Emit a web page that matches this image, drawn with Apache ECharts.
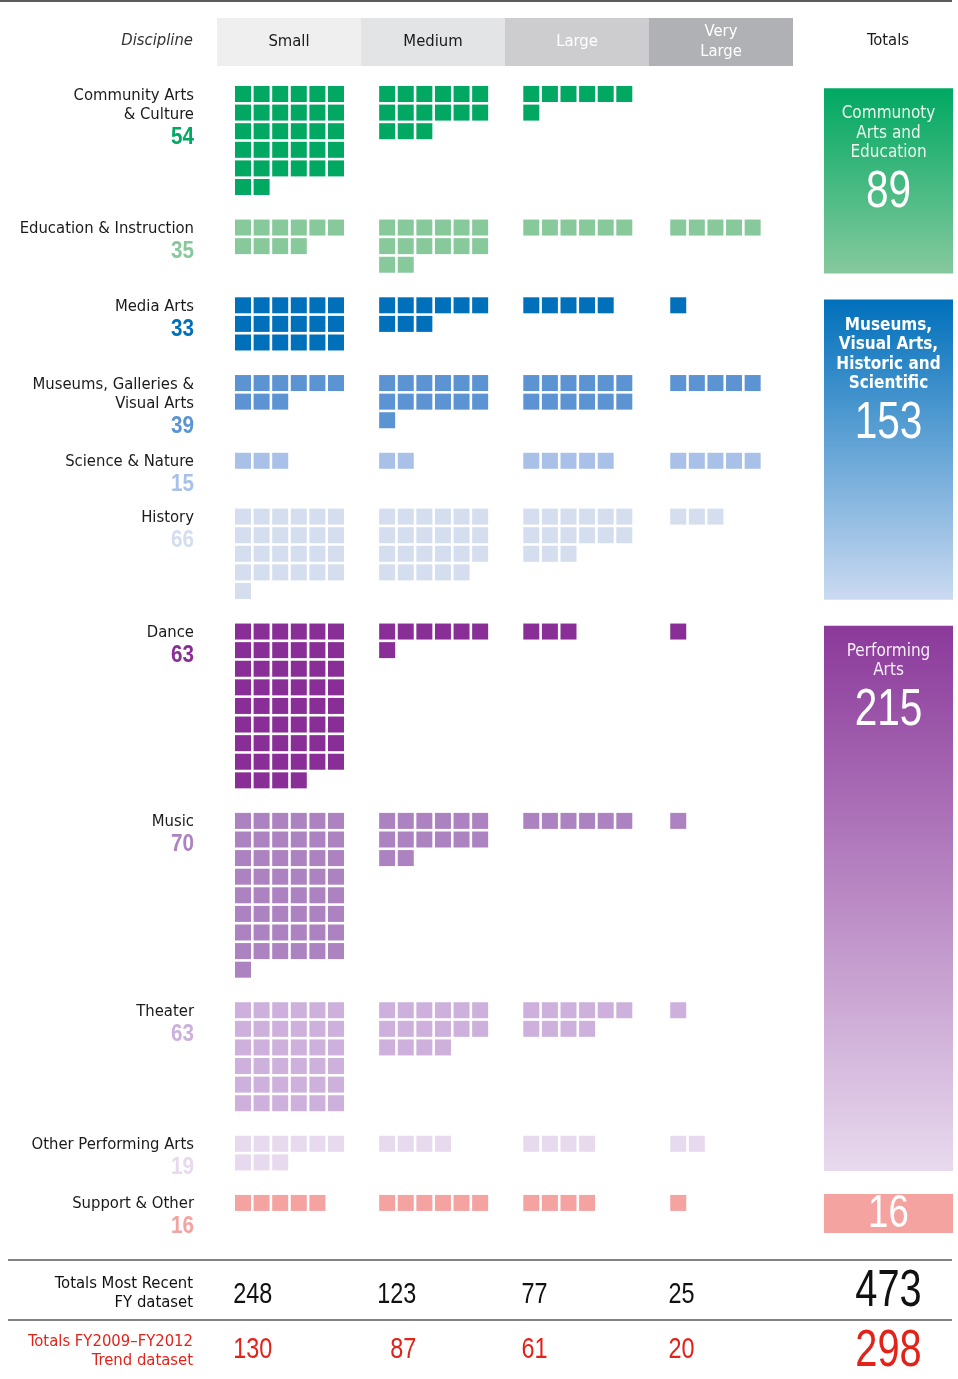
<!DOCTYPE html>
<html>
<head>
<meta charset="utf-8">
<style>
html,body{margin:0;padding:0;background:#fff}
#main{width:958px;height:1379px}
</style>
<script src="https://cdn.jsdelivr.net/npm/echarts@6/dist/echarts.min.js"></script>
</head>
<body>
<div id="main"></div>
<script>
// 数据
var sizes = ['Small', 'Medium', 'Large', 'Very\nLarge'];
var disciplines = ['Community Arts\n& Culture', 'Education & Instruction', 'Media Arts', 'Museums, Galleries &\nVisual Arts',
  'Science & Nature', 'History', 'Dance', 'Music', 'Theater', 'Other Performing Arts', 'Support & Other'];
var small     = [32, 10, 18,  9, 3, 25, 52, 49, 36, 9, 5];
var medium    = [15, 14,  9, 13, 2, 23,  7, 14, 16, 4, 6];
var large     = [ 7,  6,  5, 12, 5, 15,  3,  6, 10, 4, 4];
var veryLarge = [ 0,  5,  1,  5, 5,  3,  1,  1,  1, 2, 1];
var discColors = ['#00a862', '#88c99c', '#0070bb', '#5b93d3', '#a9c1e8', '#d4deef',
  '#8a2e97', '#ad82c0', '#cdb1dc', '#e7daef', '#f5a3a1'];
var groupNames = ['Communoty\nArts and\nEducation', 'Museums,\nVisual Arts,\nHistoric and\nScientific', 'Performing\nArts', ''];
var groupMembers = [[0, 1], [2, 3, 4, 5], [6, 7, 8, 9], [10]];
var trendTotals = [130, 87, 61, 20];
var trendGrand = 298;

// 布局
var P = 18.6;            // 每格像素
var OX = 235, OY = 86;   // 网格原点
var PER_ROW = 6;
var colStart = [0, 7.75, 15.5, 23.4];
var FONT = "'DejaVu Sans Condensed', 'Liberation Sans', sans-serif";
var NUM = "'Liberation Sans', Arial, sans-serif";
var NUM_SCALE = 0.78;   // 数字压窄
function ux(px) { return (px - OX) / P; }
function uy(px) { return (px - OY) / P; }

var measureCtx = document.createElement('canvas').getContext('2d');
function textWidth(text, font) {
  measureCtx.font = font;
  return measureCtx.measureText(text).width;
}

var bySize = [small, medium, large, veryLarge];
var discTotals = disciplines.map(function (d, i) {
  return small[i] + medium[i] + large[i] + veryLarge[i];
});
var sizeTotals = bySize.map(function (a) { return a.reduce(function (s, v) { return s + v; }, 0); });
var grand = sizeTotals.reduce(function (s, v) { return s + v; }, 0);

var rowStart = [], rowCount = [];
var r = 0;
disciplines.forEach(function (d, i) {
  var rows = Math.max.apply(null, bySize.map(function (a) { return Math.ceil(a[i] / PER_ROW); }));
  rowStart.push(r);
  rowCount.push(rows);
  r += Math.max(rows, 1.82) + 1.18;
});

// 方块
var series = [];
disciplines.forEach(function (d, i) {
  var pts = [];
  bySize.forEach(function (arr, s) {
    for (var k = 0; k < arr[i]; k++) {
      pts.push([colStart[s] + (k % PER_ROW) + 0.43, rowStart[i] + Math.floor(k / PER_ROW) + 0.43]);
    }
  });
  series.push({
    type: 'scatter', symbol: 'rect', symbolSize: 16, silent: true,
    itemStyle: {color: discColors[i], opacity: 1},
    data: pts
  });
});

// 左侧标签
series.push({
  type: 'custom', silent: true, z: 5,
  data: disciplines.map(function (d, i) { return [ux(194), rowStart[i]]; }),
  renderItem: function (params, api) {
    var i = params.dataIndex;
    var c = api.coord([api.value(0), api.value(1)]);
    var lines = disciplines[i].split('\n');
    var top = c[1] - 0.5;
    return {
      type: 'group',
      children: [{
        type: 'text', x: c[0], y: top,
        style: {text: disciplines[i], align: 'right', verticalAlign: 'top', lineHeight: 19.5,
          font: '16.5px ' + FONT, fill: '#1a1a1a'}
      }, {
        type: 'text', x: c[0], y: top + 9.75 + (lines.length - 1) * 19.5 + 22.5, scaleX: 0.86,
        style: {text: String(discTotals[i]), align: 'right', verticalAlign: 'middle',
          font: 'bold 24px ' + NUM, fill: discColors[i]}
      }]
    };
  }
});

// 右侧合计
var boxStyles = [
  {top: '#00a862', bottom: '#86c99e', text: '#eaf6ee', bold: false},
  {top: '#0070bb', bottom: '#cbdaf1', text: '#ffffff', bold: true},
  {top: '#8b399a', bottom: '#e8daee', text: '#f6eef8', bold: false},
  {top: '#f5a3a1', bottom: '#f5a3a1', text: '#ffffff', bold: false}
];
var BOX_X0 = ux(824), BOX_X1 = ux(953);
var boxData = groupMembers.map(function (m, g) {
  var first = m[0], last = m[m.length - 1];
  var total = m.reduce(function (s, i) { return s + discTotals[i]; }, 0);
  if (!groupNames[g]) {
    return [rowStart[first] - 0.05, rowStart[first] + 2.05, total];
  }
  return [rowStart[first] + 0.12, rowStart[last] + rowCount[last] - 0.1, total];
});
series.push({
  type: 'custom', silent: true,
  data: boxData,
  renderItem: function (params, api) {
    var g = params.dataIndex;
    var st = boxStyles[g];
    var p0 = api.coord([BOX_X0, api.value(0)]);
    var p1 = api.coord([BOX_X1, api.value(1)]);
    var w = p1[0] - p0[0], h = p1[1] - p0[1];
    var cx = p0[0] + w / 2;
    var lines = groupNames[g] ? groupNames[g].split('\n') : [];
    var children = [{
      type: 'rect',
      shape: {x: p0[0], y: p0[1], width: w, height: h},
      style: {fill: new echarts.graphic.LinearGradient(0, 0, 0, 1, [
        {offset: 0, color: st.top}, {offset: 1, color: st.bottom}])}
    }];
    var numY = p0[1] + h / 2 + 1;
    if (lines.length) {
      var top = p0[1] + 16;
      children.push({
        type: 'text', x: cx, y: top,
        style: {text: groupNames[g], align: 'center', verticalAlign: 'top', lineHeight: 19.5,
          font: (st.bold ? 'bold ' : '') + '17px ' + FONT, fill: st.text}
      });
      numY = top + 9.75 + (lines.length - 1) * 19.5 + 39.5;
    }
    children.push({
      type: 'text', x: cx, y: numY, scaleX: NUM_SCALE,
      style: {text: String(api.value(2)), align: 'center', verticalAlign: 'middle',
        font: (lines.length ? 52 : 47) + 'px ' + NUM, fill: '#ffffff'}
    });
    return {type: 'group', children: children};
  }
});

// 底部合计
var ROW_RECENT = uy(1294.5), ROW_TREND = uy(1349.5);
var bottomTitles = ['Totals Most Recent\nFY dataset', 'Totals FY2009\u2013FY2012\nTrend dataset'];
var bottomColors = ['#111111', '#e2231a'];
var bottomRows = [ROW_RECENT, ROW_TREND];
var titleShift = [-1.5, 2];
var NUM_FONT = '30px ' + NUM;
var bottomItems = [];
[sizeTotals, trendTotals].forEach(function (arr, k) {
  bottomItems.push({value: [ux(193), bottomRows[k]], text: bottomTitles[k], kind: 'title', row: k});
  arr.forEach(function (v, s) {
    bottomItems.push({value: [colStart[s] - 0.1, bottomRows[k]], text: String(v), kind: 'num', row: k,
      ref: String(sizeTotals[s])});
  });
  bottomItems.push({value: [(BOX_X0 + BOX_X1) / 2, bottomRows[k] + (k ? 0.12 : -0.12)],
    text: String(k ? trendGrand : grand), kind: 'big', row: k});
});
series.push({
  type: 'custom', silent: true,
  data: bottomItems.map(function (b) { return b.value; }),
  renderItem: function (params, api) {
    var b = bottomItems[params.dataIndex];
    var c = api.coord([api.value(0), api.value(1)]);
    var el = {type: 'text', x: c[0], y: c[1], style: {text: b.text, verticalAlign: 'middle', fill: bottomColors[b.row]}};
    if (b.kind === 'title') {
      el.y += titleShift[b.row];
      el.style.align = 'right';
      el.style.lineHeight = 19;
      el.style.font = '16.5px ' + FONT;
    } else if (b.kind === 'num') {
      // 趋势行数字与上一行右对齐
      el.style.align = 'right';
      el.x += textWidth(b.ref, NUM_FONT) * NUM_SCALE;
      el.style.font = NUM_FONT;
      el.scaleX = NUM_SCALE;
    } else {
      el.style.align = 'center';
      el.style.font = '51px ' + NUM;
      el.scaleX = NUM_SCALE;
    }
    return el;
  }
});

// 表头
var headerFill = ['#efefef', '#e3e4e5', '#cdcdcf', '#afb1b4'];
var headerText = ['#1a1a1a', '#1a1a1a', '#ffffff', '#ffffff'];
var graphic = [
  {type: 'line', shape: {x1: 0, y1: 1, x2: 952, y2: 1}, style: {stroke: '#5a5a5a', lineWidth: 2}},
  {type: 'line', shape: {x1: 8, y1: 1260, x2: 952, y2: 1260}, style: {stroke: '#5a5a5a', lineWidth: 1.5}},
  {type: 'line', shape: {x1: 8, y1: 1320, x2: 952, y2: 1320}, style: {stroke: '#5a5a5a', lineWidth: 1.5}},
  {type: 'text', x: 193, y: 41, style: {text: 'Discipline', align: 'right', verticalAlign: 'middle',
    font: 'italic 16.5px ' + FONT, fill: '#333'}},
  {type: 'text', x: 888, y: 41, style: {text: 'Totals', align: 'center', verticalAlign: 'middle',
    font: '16.5px ' + FONT, fill: '#1a1a1a'}}
];
sizes.forEach(function (s, i) {
  graphic.push({type: 'rect', shape: {x: 217 + 144 * i, y: 18, width: 144, height: 48}, style: {fill: headerFill[i]}});
  graphic.push({type: 'text', x: 289 + 144 * i, y: 42, style: {text: s, align: 'center', verticalAlign: 'middle',
    font: '16.5px ' + FONT, lineHeight: 20, fill: headerText[i]}});
});

var chart = echarts.init(document.getElementById('main'));
chart.setOption({
  animation: false,
  grid: {left: 0, right: 0, top: 0, bottom: 0},
  xAxis: {type: 'value', show: false, min: ux(0), max: ux(958)},
  yAxis: {type: 'value', show: false, inverse: true, min: uy(0), max: uy(1379)},
  graphic: graphic,
  series: series
});
</script>
</body>
</html>
